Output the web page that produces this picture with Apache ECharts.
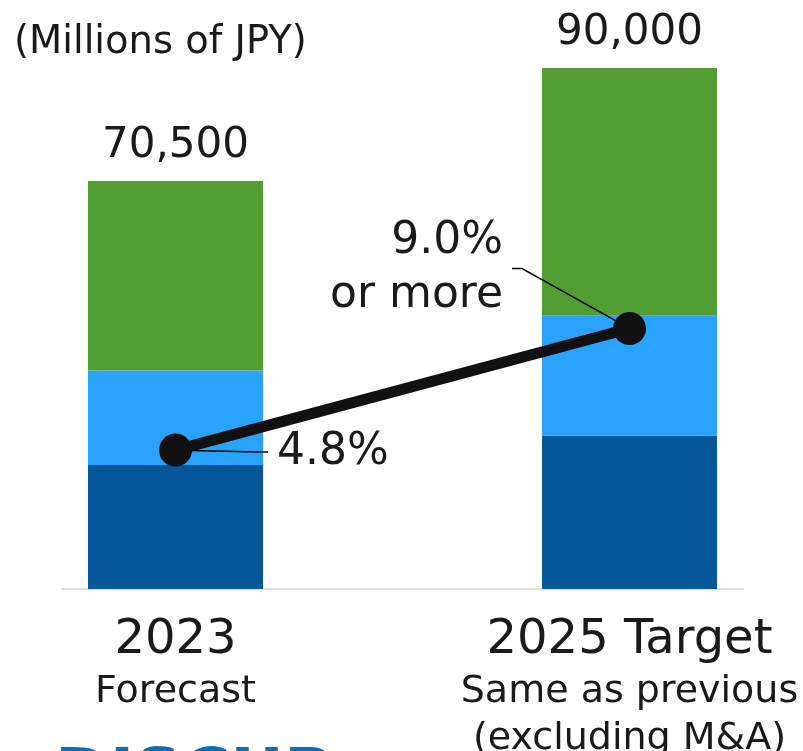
<!DOCTYPE html>
<html>
<head>
<meta charset="utf-8">
<script src="https://cdn.jsdelivr.net/npm/echarts@6/dist/echarts.min.js"></script>
<style>
html,body{margin:0;padding:0;background:#fff;}
#chart{width:803px;height:751px;}
</style>
</head>
<body>
<div id="chart"></div>
<script>
// ---- data ----
const categories = ['2023', '', '2025 Target'];
const subLabels = ['Forecast', '', 'Same as previous\n(excluding M&A)'];
const darkBlueValues = [21400, '-', 26500];
const lightBlueValues = [16350, '-', 20700];
const greenValues = [32750, '-', 42800];
const totalLabels = ['70,500', '', '90,000'];
const marginValues = [4.8, '-', 9.0];
const marginLabels = ['4.8%', '', '9.0%\nor more'];
const unitLabel = '(Millions of JPY)';
const logoText = 'DISCUP';

const FONT = 'DejaVu Sans';
const TXT = '#1a1a1a';

const chart = echarts.init(document.getElementById('chart'), null, {renderer: 'canvas'});

const marginData = marginValues.map((v, i) => {
  if (v === '-') return '-';
  return {value: v, label: {position: i === 0 ? 'right' : 'left'}};
});

const option = {
  animation: false,
  backgroundColor: '#ffffff',
  title: {
    text: unitLabel,
    left: 9,
    top: 18,
    textStyle: {fontFamily: FONT, fontSize: 38.5, fontWeight: 'normal', color: TXT}
  },
  graphic: [{
    type: 'text',
    left: 55,
    top: 745,
    style: {text: logoText, fontFamily: FONT, fontWeight: 'bold', fontSize: 66, fill: '#0a6fb8'}
  }],
  grid: {left: 62, right: 60, top: 68, bottom: 162, containLabel: false, outerBoundsMode: 'none'},
  xAxis: {
    type: 'category',
    data: categories,
    axisLine: {show: true, lineStyle: {color: '#dcdcdc', width: 2}},
    axisTick: {show: false},
    axisLabel: {
      interval: 0,
      margin: 24,
      formatter: (v, i) => v ? '{a|' + v + '}\n{b|' + subLabels[i] + '}' : '',
      rich: {
        a: {fontFamily: FONT, fontSize: 48, lineHeight: 56, color: TXT},
        b: {fontFamily: FONT, fontSize: 38, lineHeight: 47, color: TXT}
      }
    }
  },
  yAxis: [
    {type: 'value', min: 0, max: 90000, show: false, splitLine: {show: false}},
    {type: 'value', min: 0, max: 18, show: false, splitLine: {show: false}}
  ],
  series: [
    {
      type: 'bar', stack: 'sales', data: darkBlueValues, barWidth: 175,
      itemStyle: {color: '#04589a'}
    },
    {
      type: 'bar', stack: 'sales', data: lightBlueValues, barWidth: 175,
      itemStyle: {color: '#29a3fe'}
    },
    {
      type: 'bar', stack: 'sales', data: greenValues, barWidth: 175,
      itemStyle: {color: '#519e32'},
      label: {
        show: true, position: 'top', distance: 14,
        formatter: p => totalLabels[p.dataIndex],
        fontFamily: FONT, fontSize: 42, color: TXT
      }
    },
    {
      type: 'line', yAxisIndex: 1, data: marginData, connectNulls: true,
      symbol: 'circle', symbolSize: 33, z: 5,
      lineStyle: {color: '#111111', width: 11},
      itemStyle: {color: '#111111'},
      label: {
        show: true, distance: 5, padding: [0, 9],
        formatter: p => marginLabels[p.dataIndex],
        fontFamily: FONT, fontSize: 44, lineHeight: 54, color: TXT
      },
      labelLine: {show: true, length2: 10, minTurnAngle: 30, lineStyle: {color: '#000', width: 1.5}},
      labelLayout: p => p.dataIndex === 0 ? {dx: 71, dy: 2} : {dx: -96, dy: -60}
    }
  ]
};
chart.setOption(option);
</script>
</body>
</html>
